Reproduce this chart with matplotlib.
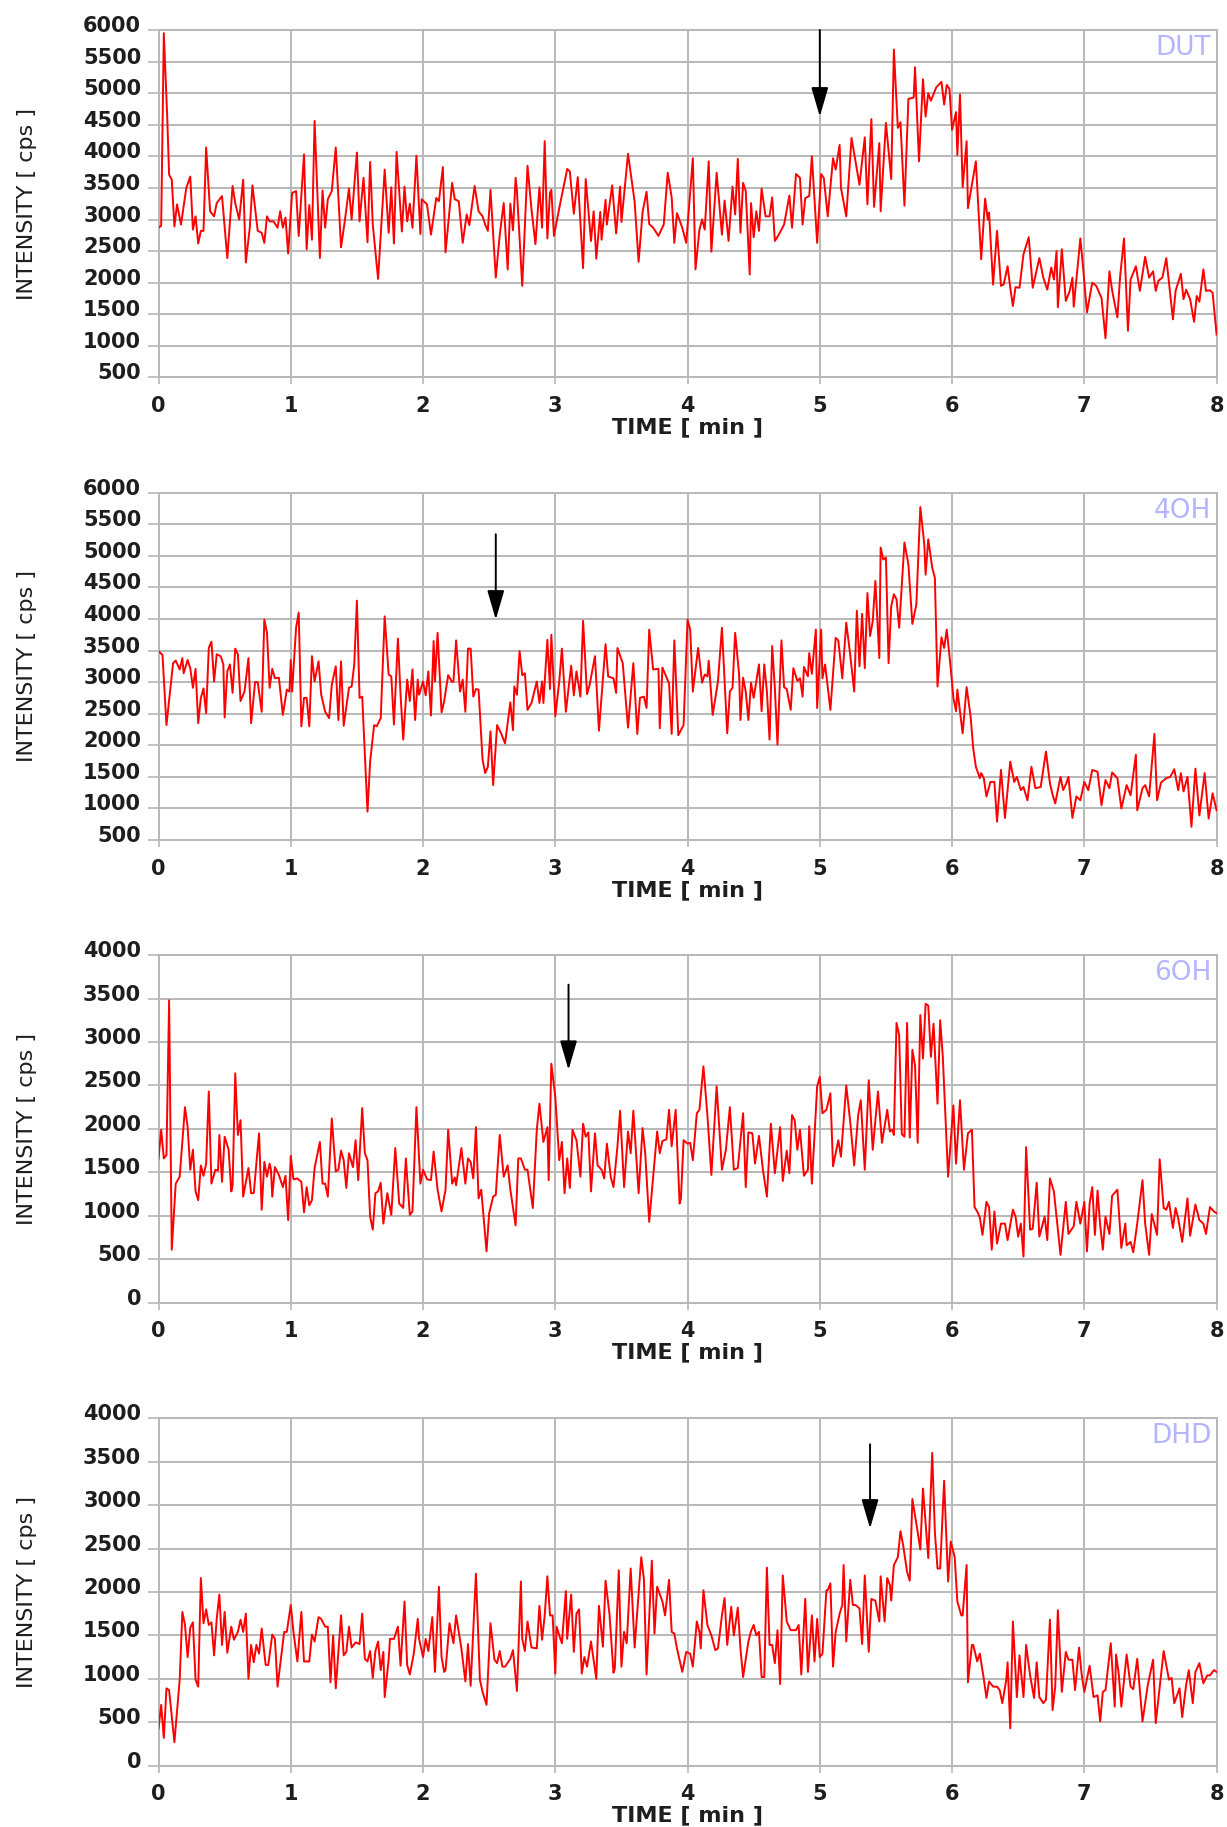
import matplotlib
matplotlib.use("Agg")
import matplotlib.pyplot as plt
import matplotlib.transforms as mtransforms

dut_t = [0.00, 0.02, 0.04, 0.065, 0.08, 0.10, 0.12, 0.14, 0.17, 0.21, 0.24, 0.26, 0.28, 0.30, 0.32, 0.34, 0.36, 0.39,
         0.42, 0.44, 0.48, 0.52, 0.56, 0.58, 0.61, 0.64, 0.66, 0.69, 0.71, 0.75, 0.78, 0.80, 0.82, 0.84, 0.87, 0.90,
         0.92, 0.94, 0.96, 0.98, 1.01, 1.04, 1.06, 1.10, 1.12, 1.14, 1.16, 1.18, 1.22, 1.24, 1.26, 1.28, 1.31, 1.34,
         1.38, 1.41, 1.44, 1.46, 1.50, 1.52, 1.55, 1.58, 1.60, 1.62, 1.66, 1.71, 1.74, 1.76, 1.78, 1.80, 1.84, 1.86,
         1.88, 1.90, 1.92, 1.95, 1.98, 1.99, 2.03, 2.06, 2.10, 2.12, 2.15, 2.17, 2.22, 2.24, 2.27, 2.30, 2.33, 2.35,
         2.39, 2.42, 2.45, 2.47, 2.49, 2.51, 2.55, 2.58, 2.61, 2.64, 2.66, 2.68, 2.70, 2.71, 2.75, 2.79, 2.82, 2.85,
         2.88, 2.90, 2.92, 2.94, 2.96, 2.97, 2.99, 3.03, 3.09, 3.11, 3.14, 3.17, 3.21, 3.23, 3.27, 3.29, 3.31, 3.34,
         3.35, 3.38, 3.39, 3.43, 3.46, 3.49, 3.50, 3.55, 3.60, 3.63, 3.66, 3.69, 3.71, 3.74, 3.78, 3.82, 3.85, 3.88,
         3.90, 3.92, 3.96, 3.99, 4.04, 4.06, 4.09, 4.11, 4.13, 4.16, 4.18, 4.22, 4.26, 4.28, 4.31, 4.34, 4.36, 4.38,
         4.40, 4.42, 4.44, 4.47, 4.48, 4.50, 4.52, 4.54, 4.56, 4.59, 4.62, 4.64, 4.66, 4.69, 4.73, 4.77, 4.79, 4.82,
         4.85, 4.87, 4.89, 4.92, 4.94, 4.98, 5.01, 5.03, 5.06, 5.10, 5.12, 5.15, 5.16, 5.20, 5.24, 5.27, 5.30, 5.34,
         5.36, 5.39, 5.41, 5.45, 5.46, 5.50, 5.54, 5.56, 5.59, 5.61, 5.64, 5.67, 5.71, 5.72, 5.75, 5.78, 5.80, 5.82,
         5.84, 5.88, 5.92, 5.94, 5.96, 5.98, 6.00, 6.03, 6.04, 6.06, 6.08, 6.11, 6.12, 6.18, 6.22, 6.25, 6.27, 6.28,
         6.31, 6.34, 6.37, 6.39, 6.42, 6.44, 6.46, 6.48, 6.51, 6.54, 6.58, 6.61, 6.66, 6.69, 6.72, 6.75, 6.77, 6.79,
         6.80, 6.83, 6.86, 6.89, 6.91, 6.92, 6.97, 6.99, 7.02, 7.06, 7.09, 7.13, 7.16, 7.19, 7.21, 7.25, 7.27, 7.30,
         7.33, 7.35, 7.39, 7.42, 7.46, 7.49, 7.52, 7.54, 7.56, 7.59, 7.62, 7.67, 7.69, 7.73, 7.75, 7.77, 7.80, 7.83,
         7.85, 7.87, 7.90, 7.92, 7.95, 7.97, 8.00]
dut_i = [2870, 2900, 5950, 4660, 3710, 3630, 2890, 3240, 2920, 3500, 3680, 2840, 3050, 2620, 2820, 2820, 4140, 3130,
         3050, 3260, 3370, 2390, 3530, 3260, 3000, 3630, 2320, 2870, 3540, 2820, 2790, 2630, 3050, 2970, 2970, 2870,
         3130, 2870, 3030, 2460, 3420, 3450, 2740, 4030, 2530, 3230, 2680, 4560, 2390, 3460, 2870, 3320, 3450, 4140,
         2560, 3000, 3490, 3000, 4060, 2970, 3660, 2640, 3910, 2920, 2060, 3790, 2790, 3510, 2620, 4070, 2810, 3520,
         2970, 3250, 2870, 4010, 2770, 3320, 3240, 2760, 3340, 3290, 3830, 2480, 3580, 3320, 3290, 2630, 3080, 2910,
         3530, 3130, 3050, 2920, 2820, 3470, 2080, 2760, 3260, 2210, 3250, 2830, 3660, 3450, 1950, 3850, 3160, 2610,
         3510, 2870, 4240, 2700, 3420, 3470, 2740, 3180, 3800, 3760, 3090, 3670, 2230, 3640, 2660, 3130, 2380, 3120,
         2680, 3310, 2920, 3540, 2780, 3520, 2960, 4040, 3280, 2330, 3120, 3440, 2930, 2870, 2740, 2920, 3740, 3350,
         2630, 3100, 2870, 2630, 3970, 2210, 2840, 3000, 2840, 3920, 2490, 3740, 2760, 3300, 2660, 3520, 3080, 3960,
         2790, 3580, 3450, 2130, 3260, 2720, 3130, 2820, 3490, 3050, 3050, 3350, 2660, 2760, 2920, 3380, 2870, 3720,
         3660, 2920, 3340, 3370, 4000, 2630, 3720, 3660, 3050, 3970, 3790, 4180, 3500, 3050, 4290, 3920, 3550, 4300,
         3240, 4590, 3200, 4210, 3130, 4530, 3640, 5690, 4450, 4540, 3220, 4910, 4930, 5410, 3920, 5220, 4630, 5000,
         4880, 5090, 5180, 4820, 5130, 5070, 4420, 4700, 4020, 4980, 3510, 4240, 3180, 3920, 2370, 3330, 3000, 3110,
         1970, 2820, 1950, 1970, 2260, 1920, 1630, 1930, 1920, 2450, 2720, 1920, 2390, 2080, 1890, 2240, 2050, 2500,
         1610, 2530, 1710, 1870, 2080, 1620, 2700, 2260, 1530, 2000, 1950, 1760, 1120, 2180, 1880, 1450, 2080, 2700,
         1240, 2050, 2260, 1870, 2410, 2080, 2180, 1870, 2030, 2080, 2390, 1420, 1870, 2140, 1740, 1890, 1740, 1380,
         1790, 1700, 2210, 1870, 1880, 1840, 1180]

oh4_t = [0.00, 0.03, 0.06, 0.11, 0.13, 0.16, 0.18, 0.19, 0.22, 0.24, 0.26, 0.28, 0.30, 0.32, 0.34, 0.36, 0.38, 0.40,
         0.42, 0.44, 0.47, 0.49, 0.50, 0.52, 0.54, 0.56, 0.58, 0.60, 0.62, 0.65, 0.68, 0.70, 0.73, 0.75, 0.78, 0.80,
         0.82, 0.84, 0.86, 0.88, 0.91, 0.94, 0.97, 0.99, 1.00, 1.01, 1.04, 1.06, 1.08, 1.10, 1.12, 1.14, 1.16, 1.18,
         1.21, 1.23, 1.26, 1.29, 1.31, 1.34, 1.36, 1.38, 1.40, 1.44, 1.46, 1.48, 1.50, 1.52, 1.54, 1.58, 1.60, 1.63,
         1.65, 1.68, 1.71, 1.74, 1.76, 1.78, 1.81, 1.83, 1.85, 1.88, 1.90, 1.92, 1.94, 1.96, 1.97, 2.00, 2.02, 2.04,
         2.06, 2.08, 2.09, 2.11, 2.14, 2.16, 2.19, 2.22, 2.23, 2.25, 2.28, 2.30, 2.32, 2.34, 2.36, 2.38, 2.40, 2.42,
         2.45, 2.47, 2.49, 2.51, 2.53, 2.56, 2.59, 2.62, 2.66, 2.68, 2.69, 2.71, 2.73, 2.75, 2.77, 2.79, 2.82, 2.86,
         2.88, 2.90, 2.91, 2.94, 2.96, 2.97, 3.00, 3.03, 3.05, 3.08, 3.12, 3.14, 3.16, 3.19, 3.21, 3.24, 3.26, 3.30,
         3.33, 3.38, 3.40, 3.44, 3.46, 3.47, 3.51, 3.55, 3.59, 3.62, 3.64, 3.67, 3.69, 3.71, 3.74, 3.78, 3.79, 3.81,
         3.86, 3.88, 3.90, 3.93, 3.97, 4.00, 4.02, 4.04, 4.08, 4.11, 4.13, 4.15, 4.16, 4.19, 4.23, 4.26, 4.30, 4.32,
         4.34, 4.36, 4.39, 4.40, 4.42, 4.44, 4.46, 4.48, 4.50, 4.54, 4.56, 4.58, 4.60, 4.62, 4.64, 4.66, 4.68, 4.71,
         4.73, 4.75, 4.78, 4.80, 4.83, 4.85, 4.87, 4.88, 4.91, 4.92, 4.94, 4.97, 4.98, 5.01, 5.02, 5.04, 5.08, 5.12,
         5.14, 5.17, 5.20, 5.23, 5.26, 5.28, 5.30, 5.32, 5.34, 5.36, 5.38, 5.40, 5.42, 5.45, 5.46, 5.48, 5.50, 5.52,
         5.54, 5.56, 5.58, 5.60, 5.64, 5.67, 5.70, 5.73, 5.76, 5.79, 5.80, 5.82, 5.85, 5.87, 5.89, 5.92, 5.94, 5.96,
         5.99, 6.01, 6.03, 6.04, 6.08, 6.11, 6.14, 6.16, 6.18, 6.21, 6.22, 6.24, 6.26, 6.29, 6.32, 6.34, 6.37, 6.40,
         6.44, 6.47, 6.49, 6.52, 6.54, 6.57, 6.60, 6.63, 6.67, 6.71, 6.74, 6.76, 6.78, 6.82, 6.84, 6.86, 6.88, 6.91,
         6.94, 6.97, 7.00, 7.03, 7.06, 7.10, 7.13, 7.16, 7.19, 7.21, 7.25, 7.28, 7.32, 7.35, 7.39, 7.40, 7.44, 7.46,
         7.49, 7.53, 7.55, 7.58, 7.62, 7.65, 7.68, 7.71, 7.73, 7.75, 7.78, 7.81, 7.84, 7.87, 7.91, 7.94, 7.97, 8.00]
oh4_i = [3490, 3430, 2320, 3300, 3340, 3200, 3380, 3140, 3350, 3220, 2910, 3210, 2350, 2750, 2900, 2510, 3540, 3640,
         3010, 3440, 3410, 3280, 2440, 3170, 3280, 2830, 3530, 3440, 2700, 2850, 3380, 2350, 3000, 3000, 2530, 3990,
         3780, 2910, 3210, 3060, 3070, 2480, 2880, 2850, 3350, 2850, 3860, 4100, 2300, 2750, 2750, 2300, 3410, 3010,
         3330, 2800, 2530, 2430, 2960, 3250, 2400, 3330, 2310, 2910, 2930, 3280, 4290, 2750, 2770, 950, 1740, 2320,
         2300, 2430, 4040, 3120, 3090, 2330, 3690, 2800, 2090, 3040, 2700, 3200, 2400, 3040, 2800, 3010, 2790, 3170,
         2470, 3650, 3010, 3780, 2520, 2700, 3110, 3000, 3010, 3660, 2850, 3040, 2530, 3530, 3530, 2770, 2890, 2880,
         1770, 1560, 1660, 2220, 1370, 2320, 2190, 2030, 2680, 2240, 2930, 2800, 3490, 3110, 3140, 2560, 2670, 3010,
         2670, 3010, 2670, 3670, 2890, 3750, 2460, 3010, 3530, 2530, 3260, 2790, 3170, 2770, 3970, 2810, 2960, 3410,
         2230, 3600, 3090, 3060, 2830, 3540, 3300, 2280, 3300, 2180, 2750, 2770, 2590, 3830, 3200, 3210, 2270, 3230,
         2980, 2180, 3660, 2160, 2320, 3990, 3830, 2850, 3540, 2990, 3120, 3090, 3340, 2480, 3010, 3860, 2190, 2850,
         2910, 3780, 3120, 2400, 3070, 2850, 2400, 2990, 2750, 3280, 2540, 3280, 2850, 2090, 3570, 2910, 2010, 3660,
         2920, 2890, 2560, 3220, 3020, 3060, 2770, 3240, 3090, 3460, 3130, 3830, 2590, 3830, 3060, 3280, 2560, 3700,
         3660, 3060, 3940, 3430, 2850, 4130, 3250, 4080, 3220, 4410, 3730, 3960, 4600, 3380, 5130, 4940, 4970, 3300,
         4200, 4390, 4310, 3860, 5210, 4860, 3920, 4230, 5770, 5180, 4700, 5260, 4810, 4650, 2930, 3710, 3540, 3830,
         3220, 2750, 2540, 2880, 2190, 2920, 2460, 1950, 1660, 1480, 1560, 1480, 1190, 1420, 1420, 790, 1610, 850,
         1740, 1420, 1500, 1290, 1340, 1130, 1660, 1320, 1340, 1900, 1400, 1220, 1080, 1500, 1290, 1380, 1500, 850,
         1190, 1130, 1420, 1290, 1610, 1580, 1050, 1450, 1320, 1570, 1480, 1000, 1370, 1210, 1850, 970, 1320, 1370,
         1190, 2180, 1130, 1410, 1480, 1500, 1620, 1290, 1560, 1270, 1500, 710, 1630, 890, 1560, 840, 1240, 970]

oh6_t = [0.00, 0.02, 0.04, 0.06, 0.08, 0.10, 0.13, 0.16, 0.20, 0.22, 0.24, 0.26, 0.28, 0.30, 0.32, 0.34, 0.36, 0.38,
         0.40, 0.43, 0.45, 0.46, 0.48, 0.50, 0.53, 0.55, 0.56, 0.58, 0.60, 0.62, 0.64, 0.68, 0.70, 0.72, 0.76, 0.78,
         0.80, 0.82, 0.84, 0.85, 0.86, 0.88, 0.91, 0.94, 0.96, 0.98, 1.00, 1.02, 1.05, 1.08, 1.10, 1.12, 1.14, 1.16,
         1.18, 1.22, 1.24, 1.26, 1.28, 1.31, 1.34, 1.36, 1.38, 1.40, 1.42, 1.44, 1.47, 1.49, 1.51, 1.54, 1.56, 1.58,
         1.60, 1.62, 1.64, 1.66, 1.68, 1.70, 1.73, 1.76, 1.79, 1.82, 1.85, 1.87, 1.90, 1.92, 1.95, 1.98, 2.00, 2.03,
         2.06, 2.08, 2.11, 2.14, 2.17, 2.19, 2.22, 2.24, 2.25, 2.29, 2.32, 2.34, 2.36, 2.38, 2.40, 2.42, 2.44, 2.48,
         2.50, 2.53, 2.55, 2.58, 2.61, 2.64, 2.66, 2.70, 2.72, 2.74, 2.77, 2.79, 2.83, 2.86, 2.88, 2.91, 2.94, 2.95,
         2.97, 3.00, 3.03, 3.05, 3.07, 3.09, 3.11, 3.13, 3.16, 3.19, 3.21, 3.23, 3.25, 3.27, 3.30, 3.32, 3.35, 3.37,
         3.39, 3.42, 3.44, 3.47, 3.49, 3.52, 3.55, 3.57, 3.59, 3.63, 3.66, 3.68, 3.71, 3.77, 3.79, 3.81, 3.84, 3.86,
         3.88, 3.91, 3.94, 3.95, 3.97, 4.00, 4.02, 4.04, 4.07, 4.09, 4.12, 4.15, 4.18, 4.22, 4.26, 4.29, 4.32, 4.35,
         4.38, 4.42, 4.44, 4.46, 4.49, 4.51, 4.54, 4.57, 4.60, 4.63, 4.66, 4.70, 4.72, 4.75, 4.77, 4.79, 4.81, 4.83,
         4.85, 4.88, 4.91, 4.92, 4.94, 4.98, 5.00, 5.02, 5.05, 5.08, 5.10, 5.14, 5.16, 5.20, 5.23, 5.26, 5.29, 5.31,
         5.34, 5.37, 5.40, 5.44, 5.47, 5.51, 5.53, 5.55, 5.56, 5.58, 5.60, 5.62, 5.64, 5.66, 5.68, 5.70, 5.72, 5.74,
         5.76, 5.78, 5.80, 5.82, 5.84, 5.86, 5.89, 5.91, 5.93, 5.97, 6.01, 6.03, 6.06, 6.09, 6.12, 6.15, 6.17, 6.19,
         6.21, 6.23, 6.26, 6.28, 6.30, 6.32, 6.34, 6.37, 6.40, 6.42, 6.46, 6.48, 6.50, 6.52, 6.54, 6.56, 6.59, 6.61,
         6.64, 6.66, 6.70, 6.72, 6.74, 6.77, 6.82, 6.86, 6.88, 6.92, 6.94, 6.97, 7.00, 7.02, 7.04, 7.06, 7.08, 7.10,
         7.12, 7.14, 7.16, 7.19, 7.21, 7.25, 7.28, 7.31, 7.32, 7.35, 7.37, 7.40, 7.44, 7.46, 7.49, 7.51, 7.55, 7.57,
         7.60, 7.62, 7.64, 7.67, 7.69, 7.71, 7.74, 7.78, 7.80, 7.84, 7.87, 7.90, 7.92, 7.95, 7.98, 8.00]
oh6_i = [1660, 1990, 1660, 1700, 3480, 610, 1370, 1450, 2250, 2020, 1530, 1760, 1280, 1180, 1580, 1460, 1600, 2430,
         1370, 1530, 1520, 1930, 1390, 1910, 1760, 1280, 1350, 2640, 1930, 2100, 1220, 1550, 1260, 1260, 1950, 1070,
         1620, 1450, 1600, 1530, 1220, 1560, 1470, 1330, 1460, 950, 1690, 1420, 1430, 1390, 1040, 1330, 1120, 1180,
         1550, 1850, 1370, 1370, 1220, 2120, 1510, 1530, 1750, 1640, 1320, 1720, 1560, 1870, 1410, 2240, 1720, 1640,
         990, 840, 1260, 1280, 1380, 910, 1260, 1010, 1780, 1140, 1090, 1660, 1010, 1050, 2250, 1370, 1530, 1420,
         1410, 1740, 1300, 1050, 1300, 1990, 1370, 1440, 1350, 1780, 1370, 1660, 1620, 1430, 2020, 1200, 1300, 590,
         1030, 1220, 1240, 1930, 1450, 1580, 1300, 890, 1660, 1660, 1530, 1530, 1090, 1990, 2290, 1850, 2020, 1410,
         2750, 2370, 1640, 1850, 1260, 1660, 1320, 1990, 1870, 1450, 2060, 1910, 1960, 1280, 1950, 1580, 1530, 1430,
         1830, 1440, 1330, 1800, 2210, 1330, 1970, 1720, 2210, 1260, 2010, 1720, 930, 1970, 1720, 1860, 1880, 2220,
         1800, 2220, 1140, 1200, 1870, 1830, 1840, 1640, 2180, 2220, 2720, 2160, 1470, 2490, 1530, 1760, 2250, 1530,
         1550, 2180, 1330, 1960, 1950, 1600, 1920, 1530, 1220, 2060, 1490, 2020, 1400, 1750, 1490, 2160, 2100, 1760,
         1990, 1460, 1530, 2030, 1370, 2490, 2600, 2180, 2220, 2410, 1570, 1870, 1680, 2500, 2080, 1580, 2160, 2330,
         1530, 2560, 1760, 2430, 1840, 2220, 1970, 1990, 1930, 3220, 3080, 1940, 1910, 3220, 1900, 2910, 2730, 1840,
         3310, 2810, 3440, 3420, 2830, 3210, 2290, 3250, 2830, 1450, 2270, 1600, 2330, 1530, 1950, 1990, 1100, 1050,
         980, 780, 1160, 1100, 610, 1050, 680, 910, 910, 720, 1070, 990, 760, 910, 530, 1790, 840, 850,
         1380, 760, 990, 720, 1430, 1280, 550, 1160, 790, 880, 1160, 910, 1160, 590, 1140, 1330, 780, 1290,
         890, 610, 990, 790, 1230, 1300, 630, 910, 660, 700, 580, 910, 1410, 910, 550, 1020, 780, 1650,
         1090, 1070, 1160, 860, 1090, 970, 700, 1200, 770, 1130, 950, 910, 790, 1100, 1050, 1030]

dhd_t = [0.00, 0.02, 0.04, 0.06, 0.08, 0.12, 0.16, 0.18, 0.20, 0.22, 0.24, 0.26, 0.28, 0.30, 0.32, 0.34, 0.36, 0.38,
         0.40, 0.42, 0.44, 0.46, 0.48, 0.50, 0.52, 0.55, 0.57, 0.60, 0.62, 0.64, 0.66, 0.68, 0.70, 0.72, 0.74, 0.76,
         0.78, 0.81, 0.83, 0.86, 0.88, 0.90, 0.95, 0.97, 1.00, 1.02, 1.05, 1.08, 1.10, 1.14, 1.16, 1.18, 1.21, 1.23,
         1.26, 1.28, 1.30, 1.32, 1.34, 1.38, 1.40, 1.42, 1.44, 1.46, 1.49, 1.52, 1.54, 1.56, 1.58, 1.60, 1.62, 1.64,
         1.66, 1.68, 1.70, 1.71, 1.74, 1.75, 1.78, 1.81, 1.83, 1.86, 1.88, 1.90, 1.93, 1.96, 1.97, 2.00, 2.02, 2.04,
         2.07, 2.09, 2.12, 2.14, 2.16, 2.17, 2.20, 2.23, 2.25, 2.29, 2.32, 2.34, 2.36, 2.40, 2.43, 2.45, 2.48, 2.51,
         2.54, 2.56, 2.58, 2.60, 2.62, 2.66, 2.68, 2.71, 2.74, 2.75, 2.77, 2.79, 2.82, 2.86, 2.88, 2.90, 2.92, 2.94,
         2.96, 2.98, 3.00, 3.01, 3.03, 3.05, 3.08, 3.09, 3.12, 3.14, 3.16, 3.18, 3.20, 3.22, 3.24, 3.27, 3.31, 3.33,
         3.36, 3.38, 3.41, 3.44, 3.45, 3.48, 3.50, 3.52, 3.54, 3.57, 3.60, 3.65, 3.67, 3.69, 3.73, 3.75, 3.77, 3.81,
         3.83, 3.86, 3.88, 3.90, 3.92, 3.96, 3.99, 4.02, 4.04, 4.07, 4.09, 4.10, 4.12, 4.15, 4.18, 4.21, 4.23, 4.26,
         4.28, 4.30, 4.33, 4.35, 4.38, 4.40, 4.42, 4.46, 4.48, 4.50, 4.52, 4.54, 4.56, 4.58, 4.60, 4.62, 4.64, 4.66,
         4.68, 4.70, 4.72, 4.75, 4.78, 4.82, 4.84, 4.86, 4.89, 4.91, 4.94, 4.96, 4.98, 5.00, 5.02, 5.05, 5.06, 5.08,
         5.10, 5.12, 5.15, 5.17, 5.18, 5.20, 5.23, 5.25, 5.27, 5.30, 5.32, 5.34, 5.37, 5.39, 5.42, 5.45, 5.46, 5.49,
         5.51, 5.53, 5.54, 5.56, 5.59, 5.61, 5.63, 5.66, 5.68, 5.70, 5.74, 5.76, 5.78, 5.82, 5.85, 5.87, 5.89, 5.91,
         5.94, 5.97, 5.99, 6.02, 6.04, 6.07, 6.08, 6.11, 6.12, 6.15, 6.16, 6.19, 6.21, 6.24, 6.26, 6.28, 6.31, 6.34,
         6.36, 6.38, 6.41, 6.42, 6.44, 6.46, 6.49, 6.51, 6.54, 6.56, 6.59, 6.62, 6.64, 6.66, 6.69, 6.71, 6.74, 6.76,
         6.78, 6.80, 6.83, 6.86, 6.88, 6.91, 6.93, 6.96, 6.98, 7.00, 7.04, 7.07, 7.10, 7.12, 7.14, 7.16, 7.20, 7.23,
         7.24, 7.26, 7.28, 7.32, 7.35, 7.37, 7.40, 7.44, 7.48, 7.52, 7.54, 7.57, 7.60, 7.64, 7.66, 7.68, 7.72, 7.74,
         7.77, 7.79, 7.82, 7.84, 7.87, 7.90, 7.93, 7.95, 7.98, 8.00]
dhd_i = [430, 700, 320, 890, 870, 270, 990, 1770, 1620, 1250, 1590, 1650, 990, 910, 2160, 1640, 1800, 1620,
         1650, 1270, 1690, 1970, 1390, 1770, 1300, 1600, 1450, 1540, 1680, 1540, 1750, 1000, 1390, 1190, 1390, 1290,
         1580, 1160, 1160, 1510, 1460, 910, 1540, 1540, 1850, 1540, 1200, 1770, 1200, 1200, 1510, 1430, 1710, 1690,
         1600, 1600, 960, 1500, 890, 1730, 1270, 1310, 1600, 1360, 1420, 1400, 1750, 1230, 1200, 1320, 1010, 1320,
         1430, 1100, 1310, 790, 1220, 1460, 1460, 1600, 1150, 1890, 1160, 1050, 1290, 1690, 1460, 1250, 1460, 1320,
         1710, 1080, 2060, 1250, 1080, 1100, 1640, 1410, 1730, 1350, 970, 1400, 920, 2210, 990, 850, 700, 1640,
         1220, 1180, 1320, 1140, 1140, 1230, 1330, 860, 2120, 1460, 1320, 1660, 1360, 1350, 1840, 1450, 1730, 2180,
         1730, 1730, 1060, 1600, 1500, 1410, 2010, 1460, 1970, 1310, 1750, 1800, 1060, 1250, 1140, 1430, 1000, 1840,
         1370, 2130, 1740, 1070, 1120, 2250, 1140, 1540, 1410, 2270, 1360, 2400, 2150, 1050, 2360, 1520, 2060, 1890,
         1730, 2140, 1540, 1520, 1350, 1080, 1310, 1290, 1140, 1660, 1540, 1350, 2020, 1620, 1500, 1330, 1350, 1730,
         1930, 1390, 1830, 1500, 1820, 1350, 1020, 1430, 1550, 1620, 1500, 1540, 1020, 1020, 2280, 1390, 1390, 1180,
         1560, 940, 2190, 1660, 1560, 1560, 1620, 1050, 1920, 1080, 1730, 1200, 1690, 1250, 1290, 2020, 2020, 2100,
         1140, 1540, 1750, 1850, 2310, 1430, 2140, 1850, 1850, 1810, 1400, 2190, 1310, 1920, 1900, 1660, 2180, 1660,
         2160, 2080, 1900, 2310, 2400, 2700, 2540, 2230, 2130, 3070, 2690, 2490, 3190, 2390, 3600, 2690, 2270, 2270,
         3280, 2120, 2580, 2400, 1890, 1730, 1730, 2310, 960, 1390, 1390, 1200, 1290, 1000, 780, 970, 910, 910,
         870, 720, 990, 1190, 430, 1660, 790, 1270, 790, 1390, 1040, 780, 1190, 790, 720, 760, 1680, 640,
         910, 1790, 850, 1310, 1220, 1220, 870, 1360, 1050, 850, 1150, 790, 810, 510, 850, 870, 1410, 680,
         1280, 1060, 680, 1280, 910, 880, 1230, 510, 930, 1220, 490, 910, 1320, 990, 1010, 720, 890, 560,
         930, 1100, 720, 1080, 1180, 950, 1040, 1040, 1100, 1080]

panel_names = ["DUT", "4OH", "6OH", "DHD"]
y_limits = [(500, 6000), (500, 6000), (0, 4000), (0, 4000)]
arrow_x = [5.00, 2.55, 3.10, 5.38]
arrow_top = [6000, 5340, 3660, 3700]
arrow_tip = [4630, 3990, 2680, 2730]

series = [(dut_t, dut_i), (oh4_t, oh4_i), (oh6_t, oh6_i), (dhd_t, dhd_i)]

fig = plt.figure(figsize=(12.27, 18.27), dpi=100)
fondos = [0.7934, 0.5402, 0.2870, 0.03355]
gris = "#b8b8b8"
subir = mtransforms.ScaledTranslation(0, 0.06, fig.dpi_scale_trans)

for k in range(4):
    ax = fig.add_axes([0.1292, fondos[k], 0.8623, 0.1902])
    t, y = series[k]
    ax.plot(t, y, color="#ff0000", lw=1.4, zorder=3)
    ax.set_xlim(0, 8)
    ax.set_ylim(*y_limits[k])
    ax.set_xticks(range(0, 9))
    ax.set_yticks(range(y_limits[k][0], y_limits[k][1] + 1, 500))
    ax.grid(True, color=gris, lw=1.4)
    ax.set_axisbelow(True)
    for s in ax.spines.values():
        s.set_color(gris)
        s.set_linewidth(1.4)
    ax.tick_params(axis="x", length=5, width=1.2, color=gris, pad=8.5, labelsize=15)
    ax.tick_params(axis="y", length=8, width=1.2, color=gris, pad=4.5, labelsize=15)
    for lab in ax.get_xticklabels() + ax.get_yticklabels():
        lab.set_fontweight("bold")
        lab.set_color("#1e1e1e")
    for lab in ax.yaxis.get_majorticklabels():
        lab.set_transform(lab.get_transform() + subir)

    ax.set_xlabel("TIME [ min ]", fontsize=16, fontweight="bold", color="#1e1e1e", va="center")
    ax.xaxis.set_label_coords(0.5, -0.144)
    ax.set_ylabel("INTENSITY [ cps ]", fontsize=16, color="#1e1e1e", va="center")
    ax.yaxis.set_label_coords(-0.124, 0.5)

    ax.text(0.995, 1 - 18 / 347.5, panel_names[k], transform=ax.transAxes, ha="right", va="center",
            fontsize=19, color="#b4b4ff")

    ax.annotate("", xy=(arrow_x[k], arrow_tip[k]), xytext=(arrow_x[k], arrow_top[k]),
                arrowprops=dict(arrowstyle="-|>,head_length=1.2,head_width=0.35", color="black",
                                lw=1.4, mutation_scale=15, shrinkA=0, shrinkB=0), zorder=4)

fig.savefig("out.png", dpi=100)
